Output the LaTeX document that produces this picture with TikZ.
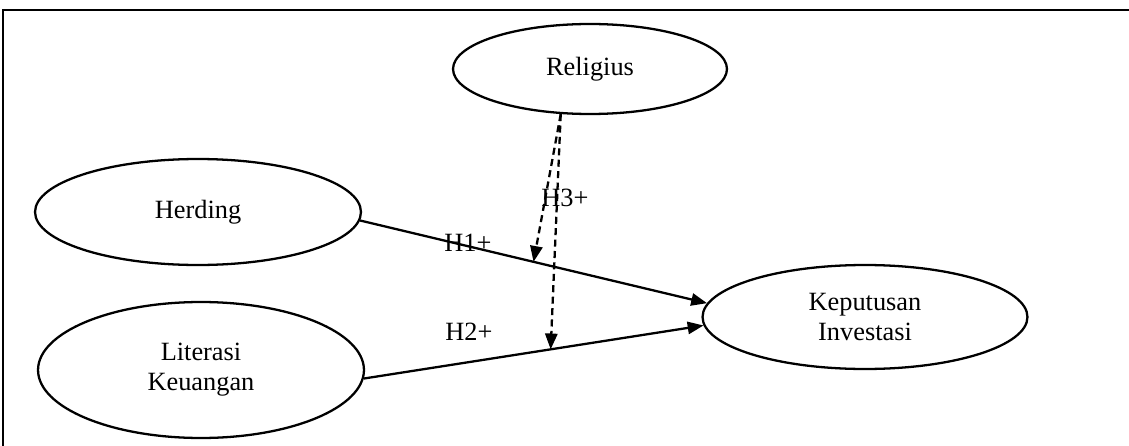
\documentclass[tikz,border=0pt]{standalone}
\usepackage{fontspec}
\setmainfont{Liberation Serif}
\usetikzlibrary{positioning,arrows.meta,shapes.geometric}

\begin{document}
\begin{tikzpicture}[x=0.02cm,y=-0.02cm,
  font=\fontsize{15}{17}\selectfont,
  var/.style={draw,ellipse,line width=1.3pt,inner sep=0pt,align=center},
  link/.style={line width=1.3pt,-{Triangle[length=9pt,width=7pt]}},
  modlink/.style={link,dash pattern=on 4pt off 2.5pt}]
  \useasboundingbox (0,0) rectangle (1129,446);

  % frame
  \draw[line width=1.3pt] (3,446) -- (3,10) -- (1129,10);

  % constructs
  \node[var,minimum width=5.48cm,minimum height=1.8cm] (rel) at (590,69) {Religius};
  \node[var,minimum width=6.52cm,minimum height=2.12cm] (herd) at (198,212) {Herding};
  \node[var,minimum width=6.52cm,minimum height=2.72cm] (lit) at (201,370) {Literasi\\Keuangan};
  \node[var,minimum width=6.5cm,minimum height=2.08cm] (kep) at (865,317) {Keputusan\\Investasi};

  % direct effects
  \draw[link] (herd.-3) -- (kep.175) coordinate[pos=0.5] (m1);
  \draw[link] (lit.-3) -- (kep.183) coordinate[pos=0.55] (m2);

  % moderation
  \draw[modlink] (rel.237) -- (m1);
  \draw[modlink] (rel.237) -- (m2);

  % hypothesis labels
  \node (h1) at (468,243) {H1+};
  \node (h2) at (469,332) {H2+};
  \node (h3) at (565,198) {H3+};
\end{tikzpicture}
\end{document}
